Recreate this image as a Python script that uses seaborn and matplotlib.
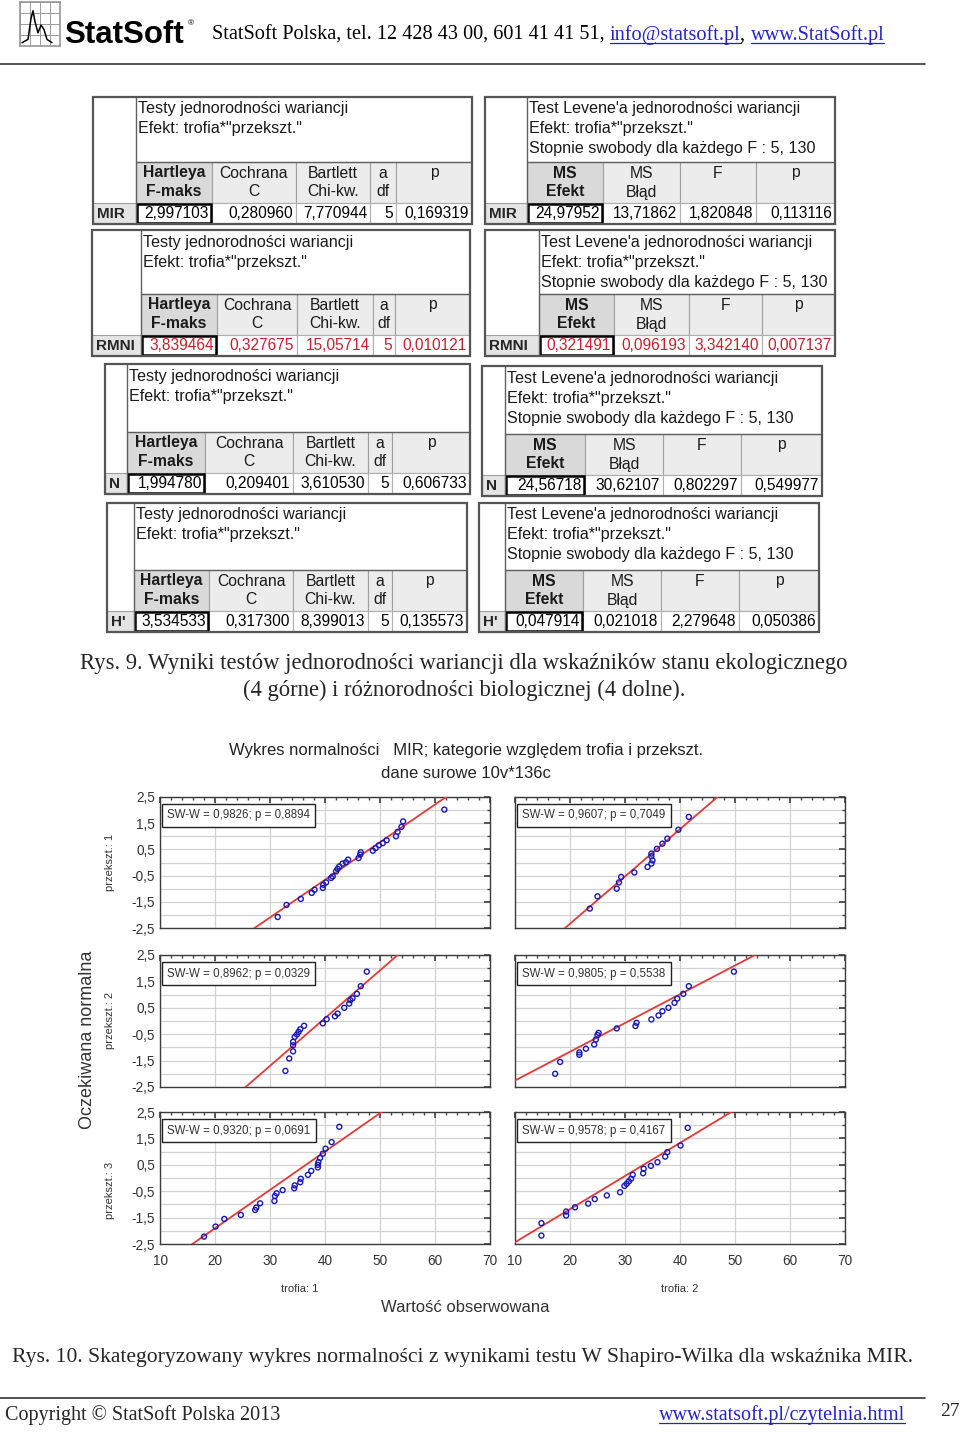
import numpy as np
import pandas as pd
import matplotlib
matplotlib.use('Agg')
import matplotlib.pyplot as plt
from matplotlib.patches import Rectangle
from matplotlib.ticker import MultipleLocator, FuncFormatter
import seaborn as sns

sns.set_theme(style='white')
plt.rcParams['font.family'] = ['Liberation Sans', 'DejaVu Sans']

# ---------------- data: variance-homogeneity tables ----------------
hartley_headers = ["Hartleya\nF-maks", "Cochrana\nC", "Bartlett\nChi-kw.", "a\ndf", "p"]
levene_headers = ["MS\nEfekt", "MS\nBłąd", "F", "p"]
hartley_title = ["Testy jednorodności wariancji", "Efekt: trofia*\"przekszt.\""]
levene_title = ["Test Levene'a jednorodności wariancji", "Efekt: trofia*\"przekszt.\"",
                "Stopnie swobody dla każdego F : 5, 130"]
row_labels = ["MIR", "RMNI", "N", "H'"]
hartley_values = [
    ["2,997103", "0,280960", "7,770944", "5", "0,169319"],
    ["3,839464", "0,327675", "15,05714", "5", "0,010121"],
    ["1,994780", "0,209401", "3,610530", "5", "0,606733"],
    ["3,534533", "0,317300", "8,399013", "5", "0,135573"],
]
levene_values = [
    ["24,97952", "13,71862", "1,820848", "0,113116"],
    ["0,321491", "0,096193", "3,342140", "0,007137"],
    ["24,56718", "30,62107", "0,802297", "0,549977"],
    ["0,047914", "0,021018", "2,279648", "0,050386"],
]
row_significant = [False, True, False, False]

# ---------------- data: normal probability plots ----------------
trofia = [1, 2, 1, 2, 1, 2]
przekszt = [1, 1, 2, 2, 3, 3]
obs_t1_p1 = [61.7, 54.2, 53.9, 53.2, 52.9, 51.2, 50.5, 49.8, 49.2, 48.7, 46.5, 46.4, 46.1, 44.2, 43.8,
             43.2, 42.6, 42.3, 42.0, 41.4, 41.1, 40.2, 39.7, 39.6, 38.1, 37.6, 35.6, 33.0, 31.4]
exp_t1_p1 = [2.02, 1.57, 1.36, 1.17, 1.00, 0.85, 0.74, 0.66, 0.55, 0.45, 0.39, 0.30, 0.17, 0.11, 0.01,
             -0.04, -0.15, -0.24, -0.34, -0.53, -0.59, -0.76, -0.85, -0.97, -1.04, -1.16, -1.39, -1.62, -2.08]
obs_t2_p1 = [41.6, 39.7, 37.7, 36.8, 35.8, 34.8, 34.8, 35.0, 34.8, 34.1, 31.7, 29.3, 28.9, 28.5, 25.0, 23.6]
exp_t2_p1 = [1.74, 1.25, 0.91, 0.72, 0.52, 0.34, 0.24, 0.08, -0.04, -0.17, -0.38, -0.55, -0.76, -1.00, -1.29, -1.76]
obs_t1_p2 = [47.6, 46.5, 45.8, 45.0, 44.6, 44.4, 43.5, 42.3, 41.8, 40.3, 39.6, 36.2, 35.5, 35.2, 34.9,
             34.5, 34.2, 34.2, 34.2, 33.5, 32.8]
exp_t1_p2 = [1.87, 1.32, 1.03, 0.86, 0.79, 0.66, 0.50, 0.28, 0.18, 0.07, -0.09, -0.18, -0.31, -0.41, -0.51,
             -0.60, -0.79, -0.92, -1.15, -1.42, -1.89]
obs_t2_p2 = [49.8, 41.6, 40.6, 39.5, 39.0, 37.9, 36.8, 36.1, 34.8, 32.1, 31.9, 28.5, 25.2, 25.0, 24.7,
             24.4, 22.9, 21.7, 21.7, 18.2, 17.3]
exp_t2_p2 = [1.87, 1.32, 1.03, 0.85, 0.69, 0.50, 0.37, 0.21, 0.06, -0.07, -0.19, -0.28, -0.45, -0.53, -0.70,
             -0.89, -1.05, -1.19, -1.28, -1.55, -2.00]
obs_t1_p3 = [42.6, 41.2, 40.1, 39.6, 39.1, 38.8, 38.7, 38.7, 37.5, 36.9, 35.6, 35.5, 34.5, 34.4, 32.3,
             31.2, 30.9, 30.8, 28.2, 27.5, 27.3, 24.7, 21.7, 20.1, 18.0]
exp_t1_p3 = [1.94, 1.36, 1.11, 0.92, 0.76, 0.60, 0.50, 0.40, 0.27, 0.12, -0.03, -0.16, -0.28, -0.39, -0.46,
             -0.58, -0.68, -0.87, -0.96, -1.12, -1.21, -1.40, -1.55, -1.84, -2.22]
obs_t2_p3 = [41.4, 40.1, 37.7, 37.3, 35.9, 34.7, 33.4, 33.3, 31.4, 31.1, 30.7, 30.3, 29.9, 29.1, 26.7,
             24.5, 23.3, 20.9, 19.3, 19.3, 14.8, 14.8]
exp_t2_p3 = [1.90, 1.23, 0.98, 0.81, 0.60, 0.46, 0.35, 0.18, 0.12, -0.03, -0.13, -0.22, -0.30, -0.54, -0.66,
             -0.80, -0.97, -1.11, -1.27, -1.42, -1.71, -2.18]
observed = [obs_t1_p1, obs_t2_p1, obs_t1_p2, obs_t2_p2, obs_t1_p3, obs_t2_p3]
expected = [exp_t1_p1, exp_t2_p1, exp_t1_p2, exp_t2_p2, exp_t1_p3, exp_t2_p3]
line_mean = [44.6, 32.95, 39.4, 30.7, 33.1, 29.4]
line_sd = [6.96, 5.54, 5.53, 9.18, 6.88, 7.97]
sw_labels = ["SW-W = 0,9826; p = 0,8894", "SW-W = 0,9607; p = 0,7049",
             "SW-W = 0,8962; p = 0,0329", "SW-W = 0,9805; p = 0,5538",
             "SW-W = 0,9320; p = 0,0691", "SW-W = 0,9578; p = 0,4167"]
x_ticks = [10, 20, 30, 40, 50, 60, 70]
y_ticks = [-2.5, -1.5, -0.5, 0.5, 1.5, 2.5]

# ---------------- figure ----------------
W, H = 960, 1432
fig = plt.figure(figsize=(9.6, 14.32), dpi=100)
fig.patch.set_facecolor('white')
bg = fig.add_axes([0, 0, 1, 1])
bg.set_xlim(0, W)
bg.set_ylim(H, 0)
bg.axis('off')
renderer = fig.canvas.get_renderer()

SERIF = ['Liberation Serif', 'DejaVu Serif']
LINK = '#2323c8'


def put_runs(x, y, runs, size, family):
    for txt, col, link in runs:
        t = bg.text(x, y, txt, fontsize=size, family=family, color=col, ha='left', va='baseline')
        w = t.get_window_extent(renderer).width
        if link:
            bg.plot([x, x + w], [y + 2.5, y + 2.5], color=col, lw=0.9)
        x += w


# header
icon = fig.add_axes([20 / W, 1 - 46 / H, 40 / W, 44 / H])
icon.set_xlim(0, 4)
icon.set_ylim(0, 4)
icon.set_xticks([0, 1, 2, 3, 4])
icon.set_yticks([0, 1, 2, 3, 4])
icon.grid(True, color='#9a9a9a', lw=0.7)
icon.tick_params(length=0, labelbottom=False, labelleft=False)
for s in icon.spines.values():
    s.set_color('#9a9a9a')
icon_x = [0.2, 0.8, 1.1, 1.3, 1.5, 1.8, 2.1, 2.4, 2.7, 3.2]
icon_y = [0.3, 0.6, 2.5, 3.2, 2.2, 1.2, 1.9, 1.5, 0.6, 0.3]
icon.plot(icon_x, icon_y, color='black', lw=1.1)
bg.text(64, 43, "StatSoft", fontsize=22.5, fontweight='bold', color='black', ha='left', va='baseline')
bg.text(188, 25, "®", fontsize=6, color='black')
put_runs(212, 40, [("StatSoft Polska, tel. 12 428 43 00, 601 41 41 51, ", 'black', False),
                   ("info@statsoft.pl", LINK, True), (", ", 'black', False),
                   ("www.StatSoft.pl", LINK, True)], 14.6, SERIF)
bg.plot([0, 925], [64, 64], color='#333333', lw=1.2)


# tables
def draw_table(box, lab_x, cols, title, headers, label, values, color):
    x0, y0, x1, y1 = box
    data_h, head_h = 21, 41
    yd = y1 - data_h
    yh = yd - head_h
    bg.add_patch(Rectangle((x0, y0), x1 - x0, y1 - y0, fc='white', ec='none', zorder=1))
    for i in range(len(cols) - 1):
        fc = '#d9d9d9' if i == 0 else '#ececec'
        bg.add_patch(Rectangle((cols[i], yh), cols[i + 1] - cols[i], head_h, fc=fc,
                               ec='#a0a0a0', lw=0.8, zorder=2))
        bg.add_patch(Rectangle((cols[i], yd), cols[i + 1] - cols[i], data_h, fc='white',
                               ec='#b0b0b0', lw=0.8, zorder=2))
    bg.add_patch(Rectangle((x0, yd), lab_x - x0, data_h, fc='#e4e4e4', ec='#a0a0a0', lw=0.8, zorder=2))
    bg.add_patch(Rectangle((cols[0] + 1, yd + 1), cols[1] - cols[0] - 2, data_h - 2, fc='none',
                           ec='black', lw=1.8, zorder=3))
    bg.plot([lab_x, lab_x], [y0, y1], color='#606060', lw=1.0, zorder=3)
    bg.plot([lab_x, x1], [yh, yh], color='#606060', lw=1.0, zorder=3)
    bg.add_patch(Rectangle((x0, y0), x1 - x0, y1 - y0, fc='none', ec='#555555', lw=1.6, zorder=4))
    for i, line in enumerate(title):
        bg.text(lab_x + 2, y0 + 12 + 20 * i, line, fontsize=11.6, va='center', ha='left',
                color='#1a1a1a', zorder=5)
    for i, hd in enumerate(headers):
        cx = 0.5 * (cols[i] + cols[i + 1])
        for j, part in enumerate(hd.split("\n")):
            bg.text(cx, yh + 11 + 19 * j, part, fontsize=11.3, ha='center', va='center',
                    fontweight='bold' if i == 0 else 'normal', color='#1a1a1a', zorder=5)
    bg.text(x0 + 4, yd + 10.5, label, fontsize=11, fontweight='bold', ha='left', va='center', zorder=5)
    for i, v in enumerate(values):
        bg.text(cols[i + 1] - 3, yd + 10.5, v, fontsize=11.2, ha='right', va='center', color=color, zorder=5)


left_boxes = [(93, 97, 472, 224), (92, 230, 470, 356), (105, 364, 470, 494), (107, 503, 467, 632)]
left_labx = [136, 141, 127, 134]
left_cols = [[136, 212, 296, 370, 396, 472], [141, 217, 297, 373, 395, 470],
             [127, 205, 293, 368, 392, 470], [134, 209, 293, 368, 392, 467]]
right_boxes = [(485, 97, 835, 224), (485, 230, 835, 356), (482, 366, 822, 496), (479, 503, 819, 632)]
right_labx = [527, 539, 505, 505]
right_cols = [[527, 603, 680, 756, 835], [539, 614, 689, 762, 835],
              [505, 585, 663, 741, 822], [505, 583, 661, 739, 819]]
for r in range(4):
    col = '#c8202e' if row_significant[r] else 'black'
    draw_table(left_boxes[r], left_labx[r], left_cols[r], hartley_title, hartley_headers,
               row_labels[r], hartley_values[r], col)
    draw_table(right_boxes[r], right_labx[r], right_cols[r], levene_title, levene_headers,
               row_labels[r], levene_values[r], col)

bg.text(464, 663, "Rys. 9. Wyniki testów jednorodności wariancji dla wskaźników stanu ekologicznego",
        fontsize=16.3, family=SERIF, ha='center', va='center')
bg.text(464, 690, "(4 górne) i różnorodności biologicznej (4 dolne).",
        fontsize=16.3, family=SERIF, ha='center', va='center')

# chart titles
bg.text(466, 750, "Wykres normalności   MIR; kategorie względem trofia i przekszt.",
        fontsize=12, ha='center', va='center', color='#222222')
bg.text(466, 773, "dane surowe 10v*136c", fontsize=12, ha='center', va='center', color='#222222')

x_ranges = [(160, 490), (515, 845)]
y_ranges = [(797, 928), (955, 1087), (1112, 1244)]
comma = FuncFormatter(lambda v, p: f"{v:.1f}".replace('.', ','))

for k in range(6):
    c = trofia[k] - 1
    r = przekszt[k] - 1
    xa, xb = x_ranges[c]
    ya, yb = y_ranges[r]
    ax = fig.add_axes([xa / W, 1 - yb / H, (xb - xa) / W, (yb - ya) / H])
    ax.set_facecolor('white')
    df = pd.DataFrame({'obs': observed[k], 'exp': expected[k]})
    xs = np.array([x_ticks[0], x_ticks[-1]], dtype=float)
    line_df = pd.DataFrame({'x': xs, 'y': (xs - line_mean[k]) / line_sd[k]})
    sns.lineplot(data=line_df, x='x', y='y', ax=ax, color='#e03a3a', lw=1.3, zorder=3)
    sns.scatterplot(data=df, x='obs', y='exp', ax=ax, marker='o', s=13, facecolors='none',
                    edgecolor='#1818b8', linewidth=1.0, zorder=4)
    ax.set_xlim(10, 70)
    ax.set_ylim(-2.5, 2.5)
    ax.xaxis.set_major_locator(MultipleLocator(10))
    ax.xaxis.set_minor_locator(MultipleLocator(2))
    ax.yaxis.set_major_locator(MultipleLocator(1, offset=0.5))
    ax.yaxis.set_minor_locator(MultipleLocator(0.5))
    ax.yaxis.set_major_formatter(comma)
    ax.grid(True, which='major', color='#d2d2d2', lw=0.9)
    ax.grid(True, which='minor', axis='y', color='#d2d2d2', lw=0.9)
    ax.tick_params(which='both', direction='in', top=True, right=True, colors='#444444',
                   labelsize=9.8, labelcolor='#333333')
    ax.tick_params(which='major', length=4)
    ax.tick_params(which='minor', length=2.5)
    ax.tick_params(axis='x', pad=7)
    ax.set_xlabel('')
    ax.set_ylabel('')
    if c != 0:
        ax.tick_params(labelleft=False)
    if r != 2:
        ax.tick_params(labelbottom=False)
    for s in ax.spines.values():
        s.set_color('#3c3c3c')
        s.set_linewidth(1.0)
    ax.text(0.022, 0.905, sw_labels[k], transform=ax.transAxes, fontsize=8.3, ha='left', va='top',
            color='#333333', bbox=dict(fc='white', ec='#222222', lw=1.0, boxstyle='square,pad=0.45'),
            zorder=6)

bg.text(88, 1040, "Oczekiwana normalna", fontsize=13, rotation=90, ha='center', va='center', color='#333333')
for r, yc in enumerate([862, 1020, 1190]):
    bg.text(110, yc, f"przekszt.: {r + 1}", fontsize=8, rotation=90, ha='center', va='center', color='#333333')
bg.text(300, 1289, "trofia: 1", fontsize=8, ha='center', va='center', color='#333333')
bg.text(680, 1289, "trofia: 2", fontsize=8, ha='center', va='center', color='#333333')
bg.text(465, 1308, "Wartość obserwowana", fontsize=12, ha='center', va='center', color='#333333')

bg.text(12, 1362, "Rys. 10. Skategoryzowany wykres normalności z wynikami testu W Shapiro-Wilka dla wskaźnika MIR.",
        fontsize=15.55, family=SERIF, ha='left', va='baseline')

# footer
bg.plot([0, 925], [1398, 1398], color='#333333', lw=1.2)
bg.text(5, 1420, "Copyright © StatSoft Polska 2013", fontsize=14.5, family=SERIF, ha='left', va='baseline')
lt = bg.text(905, 1420, "www.statsoft.pl/czytelnia.html", fontsize=14.5, family=SERIF, ha='right',
             va='baseline', color=LINK)
lw_ = lt.get_window_extent(renderer).width
bg.plot([905 - lw_, 905], [1423, 1423], color=LINK, lw=0.9)
bg.text(940, 1416, "27", fontsize=14, family=SERIF, ha='left', va='baseline')

fig.savefig('out.png', dpi=100, facecolor='white')
